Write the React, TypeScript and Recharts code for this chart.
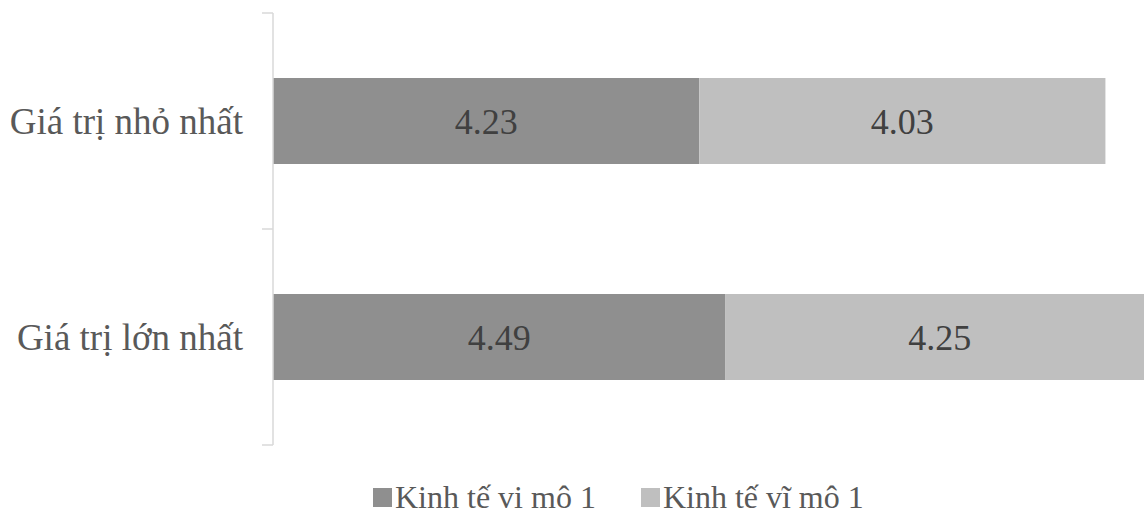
import { BarChart, Bar, XAxis, YAxis, Legend, LabelList } from "recharts";

const categories = ["Giá trị nhỏ nhất", "Giá trị lớn nhất"];
const viMo = [4.23, 4.49];
const viMoVi = [4.03, 4.25];
const seriesNames = ["Kinh tế vi mô 1", "Kinh tế vĩ mô 1"];

const data = categories.map((name, i) => ({ name, a: viMo[i], b: viMoVi[i] }));

const FONT = "Liberation Serif, Times New Roman, serif";
const colors = ["#8f8f8f", "#bfbfbf"];
const AXIS = "#d9d9d9";

// plot spans y 13..445, so each category band is 216px tall
const BAND = 432 / categories.length;

function CategoryTick(props: any) {
  const { x, y, payload, index } = props;
  const axisX = x + 30;
  return (
    <g>
      <line x1={axisX - 11} x2={axisX} y1={y - BAND / 2} y2={y - BAND / 2} stroke={AXIS} strokeWidth={1.5} />
      {index === categories.length - 1 && (
        <line x1={axisX - 11} x2={axisX} y1={y + BAND / 2} y2={y + BAND / 2} stroke={AXIS} strokeWidth={1.5} />
      )}
      <text x={x} y={y} dy="0.35em" textAnchor="end" fill="#595959" style={{ fontFamily: FONT, fontSize: 37 }}>
        {payload.value}
      </text>
    </g>
  );
}

function LegendContent() {
  return (
    <div style={{ display: "flex", alignItems: "center", height: 38, fontFamily: FONT, fontSize: 32, color: "#595959" }}>
      {seriesNames.map((n, i) => (
        <div key={n} style={{ display: "flex", alignItems: "center", marginRight: 45 }}>
          <span style={{ width: 19, height: 19, background: colors[i], marginRight: 3, display: "inline-block" }} />
          <span>{n}</span>
        </div>
      ))}
    </div>
  );
}

export default function App() {
  return (
    <div style={{ position: "absolute", left: 0, top: 0, width: 1144, height: 513, overflow: "hidden", background: "#fff" }}>
      <BarChart
        width={1180}
        height={513}
        data={data}
        layout="vertical"
        margin={{ top: 13, right: 0, bottom: 30, left: 0 }}
      >
        <XAxis type="number" domain={[0, 9]} hide />
        <YAxis
          type="category"
          dataKey="name"
          width={273}
          axisLine={{ stroke: AXIS, strokeWidth: 1.5 }}
          tickLine={false}
          tickMargin={24}
          tick={<CategoryTick />}
        />
        <Bar dataKey="a" name={seriesNames[0]} stackId="s" fill={colors[0]} barSize={86} isAnimationActive={false}>
          <LabelList dataKey="a" position="center" fill="#404040" style={{ fontFamily: FONT, fontSize: 36 }} />
        </Bar>
        <Bar dataKey="b" name={seriesNames[1]} stackId="s" fill={colors[1]} barSize={86} isAnimationActive={false}>
          <LabelList dataKey="b" position="center" fill="#404040" style={{ fontFamily: FONT, fontSize: 36 }} />
        </Bar>
        <Legend content={<LegendContent />} wrapperStyle={{ left: 373, top: 478, width: "auto" }} />
      </BarChart>
    </div>
  );
}
